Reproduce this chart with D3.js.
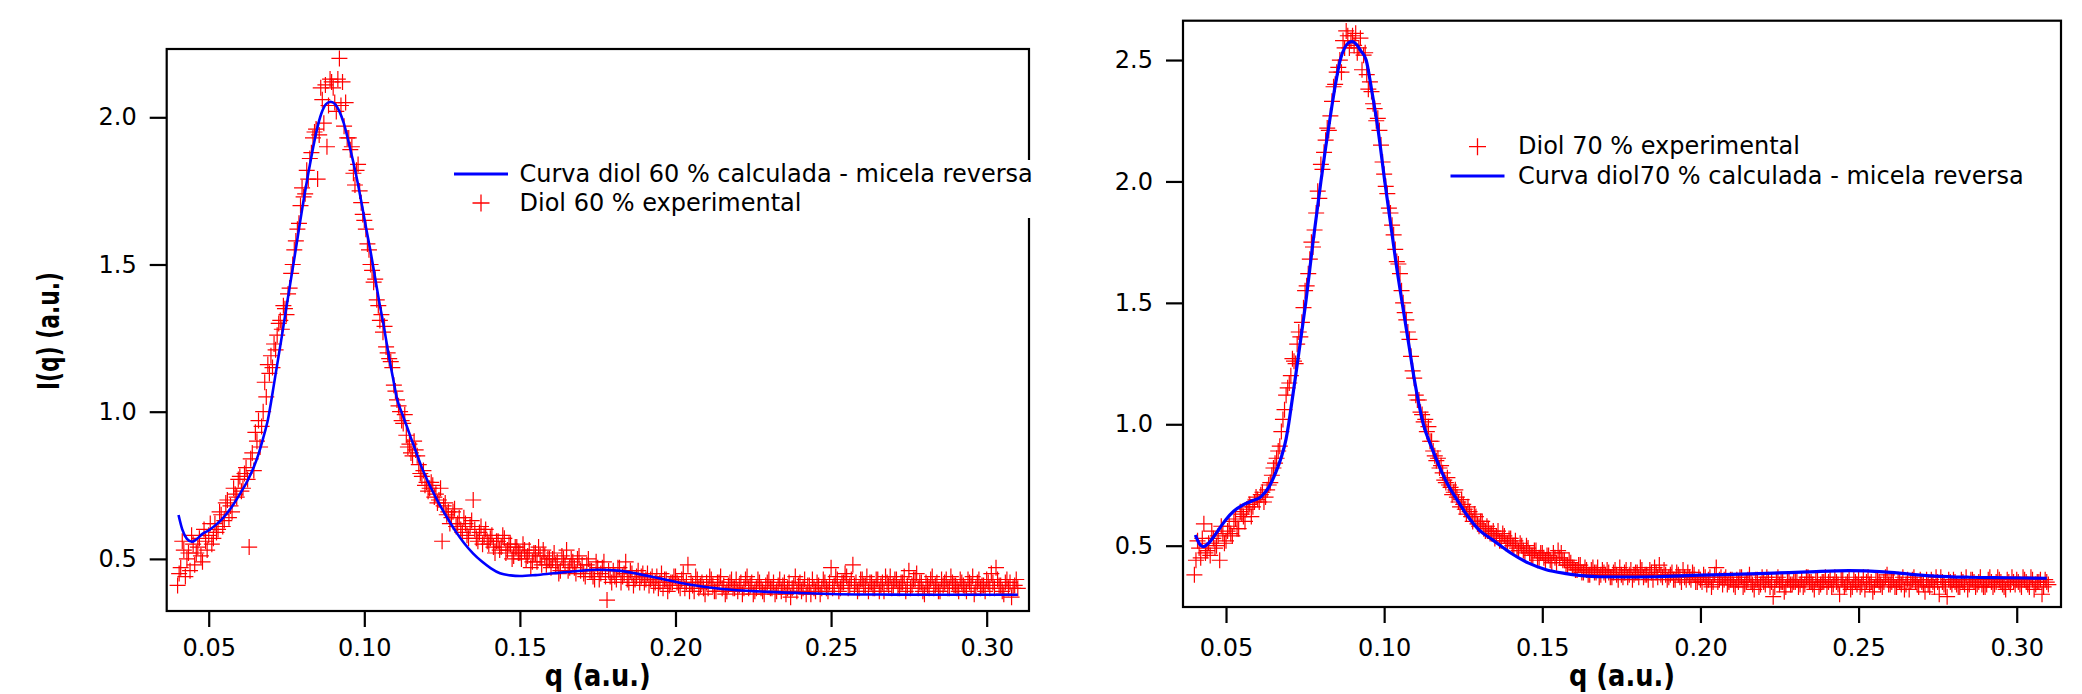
<!DOCTYPE html>
<html>
<head>
<meta charset="utf-8">
<script src="https://cdn.jsdelivr.net/npm/d3@7"></script>
<style>
  body { margin: 0; background: #fff; }
  svg { display: block; }
</style>
</head>
<body>
<div id="chart"></div>
<script>
// q grid of the measured curves (a.u.), whole steps
const qExp = [
  0.040,0.041,0.042,0.043,0.044,0.045,0.046,0.047,0.048,0.049,
  0.050,0.051,0.052,0.053,0.054,0.055,0.056,0.057,0.058,0.059,
  0.060,0.061,0.062,0.063,0.064,0.065,0.066,0.067,0.068,0.069,
  0.070,0.071,0.072,0.073,0.074,0.075,0.076,0.077,0.078,0.079,
  0.080,0.081,0.082,0.083,0.084,0.085,0.086,0.087,0.088,0.089,
  0.090,0.091,0.092,0.093,0.094,0.095,0.096,0.097,0.098,0.099,
  0.100,0.101,0.102,0.103,0.104,0.105,0.106,0.107,0.108,0.109,
  0.110,0.111,0.112,0.113,0.114,0.115,0.116,0.117,0.118,0.119,
  0.120,0.121,0.122,0.123,0.124,0.125,0.126,0.127,0.128,0.129,
  0.130,0.131,0.132,0.133,0.134,0.135,0.136,0.137,0.138,0.139,
  0.140,0.141,0.142,0.143,0.144,0.145,0.146,0.147,0.148,0.149,
  0.150,0.151,0.152,0.153,0.154,0.155,0.156,0.157,0.158,0.159,
  0.160,0.161,0.162,0.163,0.164,0.165,0.166,0.167,0.168,0.169,
  0.170,0.171,0.172,0.173,0.174,0.175,0.176,0.177,0.178,0.179,
  0.180,0.181,0.182,0.183,0.184,0.185,0.186,0.187,0.188,0.189,
  0.190,0.191,0.192,0.193,0.194,0.195,0.196,0.197,0.198,0.199,
  0.200,0.201,0.202,0.203,0.204,0.205,0.206,0.207,0.208,0.209,
  0.210,0.211,0.212,0.213,0.214,0.215,0.216,0.217,0.218,0.219,
  0.220,0.221,0.222,0.223,0.224,0.225,0.226,0.227,0.228,0.229,
  0.230,0.231,0.232,0.233,0.234,0.235,0.236,0.237,0.238,0.239,
  0.240,0.241,0.242,0.243,0.244,0.245,0.246,0.247,0.248,0.249,
  0.250,0.251,0.252,0.253,0.254,0.255,0.256,0.257,0.258,0.259,
  0.260,0.261,0.262,0.263,0.264,0.265,0.266,0.267,0.268,0.269,
  0.270,0.271,0.272,0.273,0.274,0.275,0.276,0.277,0.278,0.279,
  0.280,0.281,0.282,0.283,0.284,0.285,0.286,0.287,0.288,0.289,
  0.290,0.291,0.292,0.293,0.294,0.295,0.296,0.297,0.298,0.299,
  0.300,0.301,0.302,0.303,0.304,0.305,0.306,0.307,0.308,0.309,0.310
];

// q grid, half steps in between
const qExpB = [
  0.0405,0.0415,0.0425,0.0435,0.0445,0.0455,0.0465,0.0475,0.0485,0.0495,
  0.0505,0.0515,0.0525,0.0535,0.0545,0.0555,0.0565,0.0575,0.0585,0.0595,
  0.0605,0.0615,0.0625,0.0635,0.0645,0.0655,0.0665,0.0675,0.0685,0.0695,
  0.0705,0.0715,0.0725,0.0735,0.0745,0.0755,0.0765,0.0775,0.0785,0.0795,
  0.0805,0.0815,0.0825,0.0835,0.0845,0.0855,0.0865,0.0875,0.0885,0.0895,
  0.0905,0.0915,0.0925,0.0935,0.0945,0.0955,0.0965,0.0975,0.0985,0.0995,
  0.1005,0.1015,0.1025,0.1035,0.1045,0.1055,0.1065,0.1075,0.1085,0.1095,
  0.1105,0.1115,0.1125,0.1135,0.1145,0.1155,0.1165,0.1175,0.1185,0.1195,
  0.1205,0.1215,0.1225,0.1235,0.1245,0.1255,0.1265,0.1275,0.1285,0.1295,
  0.1305,0.1315,0.1325,0.1335,0.1345,0.1355,0.1365,0.1375,0.1385,0.1395,
  0.1405,0.1415,0.1425,0.1435,0.1445,0.1455,0.1465,0.1475,0.1485,0.1495,
  0.1505,0.1515,0.1525,0.1535,0.1545,0.1555,0.1565,0.1575,0.1585,0.1595,
  0.1605,0.1615,0.1625,0.1635,0.1645,0.1655,0.1665,0.1675,0.1685,0.1695,
  0.1705,0.1715,0.1725,0.1735,0.1745,0.1755,0.1765,0.1775,0.1785,0.1795,
  0.1805,0.1815,0.1825,0.1835,0.1845,0.1855,0.1865,0.1875,0.1885,0.1895,
  0.1905,0.1915,0.1925,0.1935,0.1945,0.1955,0.1965,0.1975,0.1985,0.1995,
  0.2005,0.2015,0.2025,0.2035,0.2045,0.2055,0.2065,0.2075,0.2085,0.2095,
  0.2105,0.2115,0.2125,0.2135,0.2145,0.2155,0.2165,0.2175,0.2185,0.2195,
  0.2205,0.2215,0.2225,0.2235,0.2245,0.2255,0.2265,0.2275,0.2285,0.2295,
  0.2305,0.2315,0.2325,0.2335,0.2345,0.2355,0.2365,0.2375,0.2385,0.2395,
  0.2405,0.2415,0.2425,0.2435,0.2445,0.2455,0.2465,0.2475,0.2485,0.2495,
  0.2505,0.2515,0.2525,0.2535,0.2545,0.2555,0.2565,0.2575,0.2585,0.2595,
  0.2605,0.2615,0.2625,0.2635,0.2645,0.2655,0.2665,0.2675,0.2685,0.2695,
  0.2705,0.2715,0.2725,0.2735,0.2745,0.2755,0.2765,0.2775,0.2785,0.2795,
  0.2805,0.2815,0.2825,0.2835,0.2845,0.2855,0.2865,0.2875,0.2885,0.2895,
  0.2905,0.2915,0.2925,0.2935,0.2945,0.2955,0.2965,0.2975,0.2985,0.2995,
  0.3005,0.3015,0.3025,0.3035,0.3045,0.3055,0.3065,0.3075,0.3085,0.3095
];

// Diol 60 % experimental I(q) on qExp
const diol60Exp = [
  0.41,0.47,0.53,0.50,0.46,0.55,0.52,0.57,0.49,0.56,
  0.58,0.55,0.62,0.60,0.65,0.63,0.70,0.68,0.74,0.71,
  0.78,0.74,0.81,0.54,0.86,0.93,0.97,0.95,1.10,1.16,
  1.19,1.23,1.26,1.31,1.36,1.33,1.42,1.50,1.58,1.64,
  1.76,1.74,1.79,1.88,1.95,1.79,2.10,1.98,1.90,2.13,
  2.10,2.02,2.20,2.12,2.05,1.93,1.90,1.77,1.84,1.71,
  1.65,1.57,1.50,1.44,1.38,1.31,1.27,1.22,1.18,1.15,
  1.07,1.02,0.97,0.99,0.88,0.86,0.90,0.85,0.79,0.80,
  0.76,0.74,0.75,0.72,0.70,0.56,0.69,0.66,0.64,0.67,
  0.62,0.60,0.64,0.58,0.61,0.70,0.57,0.59,0.55,0.60,
  0.55,0.58,0.52,0.56,0.54,0.57,0.53,0.55,0.51,0.54,
  0.52,0.55,0.50,0.53,0.49,0.52,0.54,0.48,0.51,0.50,
  0.47,0.52,0.49,0.46,0.50,0.53,0.47,0.49,0.45,0.51,
  0.48,0.44,0.50,0.46,0.43,0.47,0.45,0.49,0.36,0.44,
  0.46,0.43,0.47,0.44,0.49,0.42,0.45,0.43,0.46,0.44,
  0.42,0.45,0.43,0.41,0.44,0.42,0.40,0.43,0.41,0.42,
  0.44,0.41,0.43,0.40,0.48,0.42,0.39,0.43,0.41,0.40,
  0.42,0.44,0.41,0.39,0.42,0.40,0.38,0.41,0.43,0.40,
  0.39,0.42,0.40,0.44,0.41,0.38,0.40,0.42,0.39,0.41,
  0.43,0.40,0.38,0.41,0.39,0.42,0.40,0.37,0.41,0.39,
  0.42,0.40,0.38,0.41,0.43,0.39,0.41,0.40,0.42,0.39,
  0.47,0.41,0.43,0.40,0.42,0.44,0.41,0.48,0.42,0.40,
  0.43,0.41,0.39,0.42,0.40,0.43,0.41,0.39,0.42,0.44,
  0.41,0.43,0.40,0.42,0.39,0.46,0.41,0.43,0.40,0.42,
  0.38,0.41,0.43,0.40,0.42,0.39,0.41,0.43,0.40,0.42,
  0.41,0.39,0.42,0.40,0.43,0.41,0.38,0.42,0.40,0.41,
  0.43,0.40,0.42,0.47,0.41,0.39,0.42,0.40,0.37,0.41,0.40
];

// Diol 60 % experimental I(q) on qExpB
const diol60ExpB = [
  0.45,0.56,0.44,0.52,0.58,0.48,0.54,0.51,0.60,0.53,
  0.62,0.57,0.59,0.66,0.61,0.69,0.64,0.66,0.72,0.77,
  0.73,0.79,0.77,0.84,0.80,0.90,0.88,1.00,1.05,1.13,
  1.15,1.21,1.30,1.28,1.35,1.40,1.47,1.55,1.62,1.70,
  1.73,1.82,1.86,1.93,1.96,1.94,2.06,2.11,2.04,2.12,
  2.05,2.13,2.04,1.97,1.93,1.89,1.81,1.82,1.75,1.67,
  1.62,1.55,1.48,1.45,1.36,1.33,1.29,1.20,1.17,1.09,
  1.04,1.00,0.96,0.92,0.89,0.85,0.87,0.82,0.78,0.75,
  0.73,0.76,0.71,0.69,0.74,0.68,0.65,0.62,0.66,0.61,
  0.64,0.59,0.62,0.57,0.63,0.60,0.56,0.61,0.58,0.56,
  0.57,0.54,0.56,0.53,0.58,0.52,0.55,0.50,0.54,0.52,
  0.50,0.53,0.51,0.47,0.52,0.49,0.51,0.53,0.48,0.50,
  0.50,0.48,0.45,0.51,0.48,0.46,0.50,0.47,0.50,0.46,
  0.45,0.48,0.46,0.44,0.49,0.43,0.47,0.44,0.46,0.42,
  0.44,0.47,0.42,0.45,0.43,0.46,0.41,0.44,0.42,0.45,
  0.43,0.41,0.44,0.42,0.40,0.45,0.43,0.39,0.42,0.44,
  0.42,0.40,0.45,0.42,0.39,0.41,0.44,0.40,0.42,0.38,
  0.40,0.43,0.39,0.42,0.44,0.41,0.39,0.42,0.40,0.43,
  0.41,0.38,0.43,0.40,0.42,0.39,0.43,0.40,0.38,0.42,
  0.40,0.42,0.39,0.43,0.41,0.38,0.42,0.40,0.44,0.41,
  0.39,0.43,0.41,0.38,0.40,0.42,0.38,0.43,0.40,0.42,
  0.40,0.44,0.39,0.42,0.45,0.40,0.43,0.41,0.39,0.43,
  0.41,0.44,0.42,0.40,0.43,0.39,0.42,0.44,0.41,0.40,
  0.43,0.40,0.42,0.44,0.41,0.40,0.43,0.45,0.42,0.39,
  0.42,0.40,0.44,0.41,0.39,0.43,0.42,0.40,0.44,0.41,
  0.40,0.43,0.41,0.39,0.42,0.44,0.40,0.43,0.41,0.39,
  0.42,0.45,0.40,0.43,0.41,0.38,0.43,0.42,0.40,0.43
];

// Diol 70 % experimental I(q) on qExp
const diol70Exp = [
  0.38,0.52,0.45,0.59,0.48,0.46,0.53,0.50,0.44,0.55,
  0.52,0.58,0.54,0.61,0.57,0.63,0.60,0.66,0.62,0.68,
  0.69,0.71,0.68,0.73,0.76,0.82,0.86,0.91,1.02,1.12,
  1.17,1.27,1.25,1.38,1.42,1.55,1.62,1.75,1.80,1.96,
  2.07,2.12,2.22,2.27,2.39,2.45,2.50,2.58,2.62,2.55,
  2.60,2.61,2.55,2.46,2.53,2.38,2.37,2.30,2.26,2.15,
  2.03,1.95,1.87,1.78,1.67,1.62,1.50,1.43,1.35,1.22,
  1.12,1.10,1.04,1.02,0.99,0.93,0.87,0.86,0.83,0.77,
  0.78,0.74,0.72,0.70,0.66,0.67,0.63,0.64,0.60,0.62,
  0.58,0.60,0.56,0.57,0.55,0.53,0.56,0.52,0.54,0.51,
  0.53,0.50,0.49,0.51,0.48,0.50,0.47,0.46,0.48,0.45,
  0.47,0.44,0.46,0.43,0.45,0.48,0.47,0.44,0.42,0.43,
  0.41,0.40,0.42,0.39,0.40,0.38,0.41,0.39,0.37,0.40,
  0.38,0.39,0.37,0.40,0.36,0.38,0.39,0.37,0.40,0.38,
  0.39,0.41,0.37,0.38,0.40,0.36,0.39,0.42,0.37,0.38,
  0.37,0.39,0.36,0.38,0.35,0.37,0.39,0.36,0.38,0.35,
  0.36,0.38,0.34,0.37,0.35,0.41,0.36,0.34,0.37,0.35,
  0.36,0.33,0.35,0.37,0.34,0.36,0.35,0.32,0.36,0.34,
  0.35,0.37,0.33,0.29,0.36,0.34,0.35,0.33,0.36,0.34,
  0.35,0.33,0.36,0.34,0.37,0.35,0.32,0.36,0.34,0.35,
  0.33,0.36,0.34,0.35,0.30,0.36,0.34,0.37,0.33,0.35,
  0.36,0.34,0.32,0.37,0.35,0.33,0.36,0.34,0.35,0.38,
  0.34,0.36,0.33,0.35,0.37,0.34,0.32,0.36,0.35,0.33,
  0.35,0.31,0.34,0.36,0.33,0.35,0.37,0.34,0.29,0.35,
  0.36,0.34,0.33,0.35,0.37,0.34,0.36,0.33,0.35,0.34,
  0.33,0.36,0.35,0.34,0.37,0.35,0.33,0.36,0.34,0.35,
  0.36,0.34,0.37,0.35,0.33,0.36,0.34,0.35,0.30,0.36,0.34
];

// Diol 70 % experimental I(q) on qExpB
const diol70ExpB = [
  0.44,0.49,0.53,0.47,0.51,0.56,0.49,0.54,0.58,0.51,
  0.56,0.55,0.60,0.57,0.64,0.62,0.65,0.67,0.66,0.70,
  0.68,0.72,0.70,0.75,0.79,0.84,0.89,0.97,1.06,1.15,
  1.20,1.26,1.33,1.36,1.48,1.57,1.68,1.73,1.87,1.93,
  2.05,2.17,2.21,2.33,2.40,2.47,2.45,2.55,2.60,2.58,
  2.56,2.53,2.59,2.52,2.44,2.41,2.32,2.25,2.21,2.08,
  1.98,1.89,1.82,1.72,1.66,1.55,1.46,1.38,1.28,1.19,
  1.10,1.05,1.01,0.97,0.93,0.89,0.85,0.82,0.80,0.76,
  0.75,0.71,0.73,0.68,0.69,0.65,0.66,0.62,0.63,0.59,
  0.60,0.57,0.58,0.55,0.56,0.54,0.52,0.55,0.51,0.53,
  0.50,0.52,0.48,0.50,0.47,0.49,0.46,0.48,0.44,0.47,
  0.45,0.46,0.44,0.47,0.43,0.45,0.44,0.42,0.44,0.41,
  0.40,0.42,0.39,0.41,0.38,0.40,0.39,0.41,0.38,0.39,
  0.40,0.37,0.39,0.38,0.41,0.37,0.40,0.38,0.36,0.39,
  0.37,0.40,0.38,0.36,0.39,0.41,0.37,0.38,0.40,0.36,
  0.38,0.36,0.39,0.37,0.40,0.36,0.37,0.39,0.35,0.37,
  0.35,0.37,0.36,0.33,0.38,0.35,0.37,0.36,0.34,0.36,
  0.34,0.36,0.37,0.33,0.35,0.38,0.34,0.36,0.33,0.37,
  0.34,0.36,0.35,0.33,0.37,0.35,0.31,0.36,0.34,0.35,
  0.36,0.34,0.33,0.37,0.35,0.34,0.36,0.33,0.35,0.37,
  0.35,0.33,0.37,0.34,0.36,0.33,0.35,0.32,0.36,0.34,
  0.33,0.37,0.35,0.34,0.31,0.36,0.35,0.33,0.37,0.34,
  0.35,0.33,0.36,0.34,0.32,0.36,0.35,0.37,0.34,0.36,
  0.34,0.36,0.33,0.35,0.37,0.30,0.35,0.33,0.36,0.34,
  0.35,0.33,0.36,0.34,0.32,0.36,0.35,0.34,0.37,0.33,
  0.34,0.37,0.33,0.35,0.36,0.34,0.32,0.35,0.37,0.34,
  0.35,0.33,0.36,0.34,0.37,0.32,0.35,0.36,0.33,0.35
];

// calculated curves (reverse micelle model)
const calc60Q = [0.0403,0.0415,0.043,0.0446,0.046,0.048,0.050,0.052,0.0545,0.0575,0.060,0.0626,0.0645,0.0661,0.0675,0.069,0.0712,0.0733,0.0752,0.0772,0.079,0.0805,0.082,0.0834,0.0848,0.0862,0.0877,0.0892,0.0906,0.092,0.0934,0.0948,0.0962,0.0977,0.0991,0.1005,0.102,0.1034,0.1048,0.1063,0.1077,0.1092,0.1106,0.1121,0.1135,0.115,0.1164,0.1185,0.1207,0.1235,0.1264,0.1292,0.1321,0.135,0.1378,0.1407,0.1436,0.147,0.150,0.155,0.1608,0.168,0.175,0.1815,0.1875,0.194,0.2039,0.215,0.2277,0.240,0.250,0.265,0.280,0.295,0.310];
const calc60I = [0.649,0.600,0.568,0.558,0.566,0.585,0.597,0.613,0.638,0.678,0.720,0.768,0.812,0.859,0.910,0.972,1.108,1.243,1.370,1.500,1.620,1.719,1.810,1.889,1.960,2.013,2.045,2.053,2.045,2.020,1.980,1.923,1.860,1.787,1.710,1.628,1.545,1.459,1.373,1.289,1.200,1.115,1.040,0.995,0.955,0.910,0.870,0.810,0.757,0.698,0.644,0.596,0.553,0.518,0.491,0.468,0.451,0.444,0.442,0.445,0.451,0.458,0.463,0.460,0.450,0.436,0.414,0.398,0.389,0.384,0.381,0.379,0.378,0.378,0.378];

const calc70Q = [0.0403,0.0415,0.0429,0.0445,0.046,0.048,0.050,0.0525,0.0554,0.058,0.0611,0.0635,0.0656,0.0675,0.069,0.0698,0.0708,0.0718,0.0733,0.0752,0.0775,0.080,0.0815,0.083,0.0846,0.0861,0.0875,0.0888,0.090,0.0912,0.0925,0.0943,0.096,0.098,0.1002,0.102,0.1038,0.1057,0.1079,0.1096,0.1124,0.115,0.1175,0.120,0.1231,0.1265,0.130,0.1344,0.140,0.1457,0.151,0.157,0.1625,0.168,0.177,0.186,0.200,0.210,0.221,0.234,0.247,0.258,0.266,0.274,0.285,0.297,0.3095];
const calc70I = [0.544,0.510,0.496,0.510,0.535,0.572,0.608,0.643,0.668,0.683,0.702,0.740,0.798,0.865,0.940,1.000,1.090,1.180,1.320,1.500,1.750,2.000,2.140,2.270,2.400,2.500,2.550,2.572,2.576,2.565,2.540,2.500,2.380,2.220,2.000,1.830,1.660,1.500,1.320,1.180,1.000,0.905,0.825,0.755,0.688,0.620,0.565,0.523,0.470,0.428,0.402,0.386,0.377,0.372,0.371,0.372,0.379,0.382,0.386,0.392,0.397,0.392,0.383,0.375,0.370,0.368,0.366];

const xTicks = [0.05, 0.10, 0.15, 0.20, 0.25, 0.30];
const yTicks60 = [0.5, 1.0, 1.5, 2.0];
const yTicks70 = [0.5, 1.0, 1.5, 2.0, 2.5];

const legend60 = ["Curva diol 60 % calculada - micela reversa", "Diol 60 % experimental"];
const legend70 = ["Diol 70 % experimental", "Curva diol70 % calculada - micela reversa"];
const xTitle = "q (a.u.)";
const yTitle = "I(q) (a.u.)";

const W = 2082, H = 694;
const FONT = "'DejaVu Sans', Verdana, sans-serif";
const RED = "#ff0000", BLUE = "#0000ff";

const svg = d3.select("#chart").append("svg")
    .attr("width", W)
    .attr("height", H);

const crossPath = s => `M${-s},0H${s}M0,${-s}V${s}`;

function drawPanel(p) {
    const x = d3.scaleLinear().domain(p.xDomain).range([p.left, p.right]);
    const y = d3.scaleLinear().domain(p.yDomain).range([p.bottom, p.top]);
    const g = svg.append("g");

    g.append("clipPath").attr("id", p.id + "-clip")
        .append("rect")
        .attr("x", p.left).attr("y", p.top)
        .attr("width", p.right - p.left).attr("height", p.bottom - p.top);

    const plot = g.append("g").attr("clip-path", `url(#${p.id}-clip)`);

    // experimental points
    const pts = d3.zip(qExp, p.exp).concat(d3.zip(qExpB, p.expB));
    plot.selectAll("path.pt")
        .data(pts)
        .join("path")
        .attr("class", "pt")
        .attr("d", crossPath(8))
        .attr("transform", d => `translate(${x(d[0])},${y(d[1])})`)
        .attr("stroke", RED)
        .attr("stroke-width", 1.2)
        .attr("fill", "none");

    // calculated curve
    const line = d3.line()
        .x(d => x(d[0]))
        .y(d => y(d[1]))
        .curve(d3.curveMonotoneX);

    plot.append("path")
        .datum(d3.zip(p.calcQ, p.calcI))
        .attr("d", line)
        .attr("fill", "none")
        .attr("stroke", BLUE)
        .attr("stroke-width", p.lineWidth)
        .attr("stroke-linejoin", "round");

    // frame
    g.append("rect")
        .attr("x", p.left).attr("y", p.top)
        .attr("width", p.right - p.left).attr("height", p.bottom - p.top)
        .attr("fill", "none")
        .attr("stroke", "#000")
        .attr("stroke-width", 2.2);

    // axes
    const xa = g.append("g")
        .attr("transform", `translate(0,${p.bottom})`)
        .call(d3.axisBottom(x).tickValues(xTicks).tickFormat(d3.format(".2f"))
            .tickSize(16).tickPadding(656 - p.bottom - 16 - 17));
    const ya = g.append("g")
        .attr("transform", `translate(${p.left},0)`)
        .call(d3.axisLeft(y).tickValues(p.yTicks).tickFormat(d3.format(".1f"))
            .tickSize(17).tickPadding(13));

    [xa, ya].forEach(a => {
        a.select(".domain").remove();
        a.selectAll(".tick line").attr("stroke", "#000").attr("stroke-width", 2.2);
        a.selectAll(".tick text")
            .attr("fill", "#000")
            .style("font-family", FONT)
            .style("font-size", "24px");
    });

    // x title
    g.append("text")
        .attr("x", (p.left + p.right) / 2)
        .attr("y", p.xTitleY)
        .attr("text-anchor", "middle")
        .attr("textLength", 106)
        .attr("lengthAdjust", "spacingAndGlyphs")
        .style("font-family", FONT)
        .style("font-weight", "bold")
        .style("font-size", "30px")
        .text(xTitle);

    return { x, y, g };
}

function legendRow(g, kind, lx, ly, tx, ty, label, lineWidth) {
    if (kind === "line") {
        g.append("line")
            .attr("x1", lx - 27).attr("x2", lx + 27)
            .attr("y1", ly).attr("y2", ly)
            .attr("stroke", BLUE)
            .attr("stroke-width", lineWidth);
    } else {
        g.append("path")
            .attr("d", crossPath(8.5))
            .attr("transform", `translate(${lx},${ly})`)
            .attr("stroke", RED)
            .attr("stroke-width", 1.3)
            .attr("fill", "none");
    }
    g.append("text")
        .attr("x", tx).attr("y", ty)
        .style("font-family", FONT)
        .style("font-size", "24px")
        .attr("fill", "#000")
        .text(label);
}

// left panel: diol 60 %
drawPanel({
    id: "p60",
    left: 166.7, right: 1029, top: 49, bottom: 611,
    xDomain: [0.0365, 0.3136], yDomain: [0.323, 2.232],
    exp: diol60Exp, expB: diol60ExpB, calcQ: calc60Q, calcI: calc60I,
    yTicks: yTicks60, lineWidth: 2.6, xTitleY: 686
});

// right panel: diol 70 %
drawPanel({
    id: "p70",
    left: 1183, right: 2061, top: 20.7, bottom: 607,
    xDomain: [0.0364, 0.3140], yDomain: [0.2475, 2.662],
    exp: diol70Exp, expB: diol70ExpB, calcQ: calc70Q, calcI: calc70I,
    yTicks: yTicks70, lineWidth: 3.2, xTitleY: 686
});

// y title (left panel only)
svg.append("text")
    .attr("transform", "translate(59,331) rotate(-90)")
    .attr("text-anchor", "middle")
    .attr("textLength", 118)
    .attr("lengthAdjust", "spacingAndGlyphs")
    .style("font-family", FONT)
    .style("font-weight", "bold")
    .style("font-size", "30px")
    .text(yTitle);

// legend 60 % (white box sits over the right frame)
const lg60 = svg.append("g");
lg60.append("rect")
    .attr("x", 445).attr("y", 160)
    .attr("width", 590).attr("height", 58)
    .attr("fill", "#fff");
legendRow(lg60, "line", 481, 174, 519.5, 182.3, legend60[0], 2.8);
legendRow(lg60, "cross", 481, 203, 519.5, 210.7, legend60[1]);

// legend 70 %
const lg70 = svg.append("g");
legendRow(lg70, "cross", 1477.5, 146.7, 1518, 154, legend70[0]);
legendRow(lg70, "line", 1477.5, 176, 1518, 184, legend70[1], 3.2);
</script>
</body>
</html>
